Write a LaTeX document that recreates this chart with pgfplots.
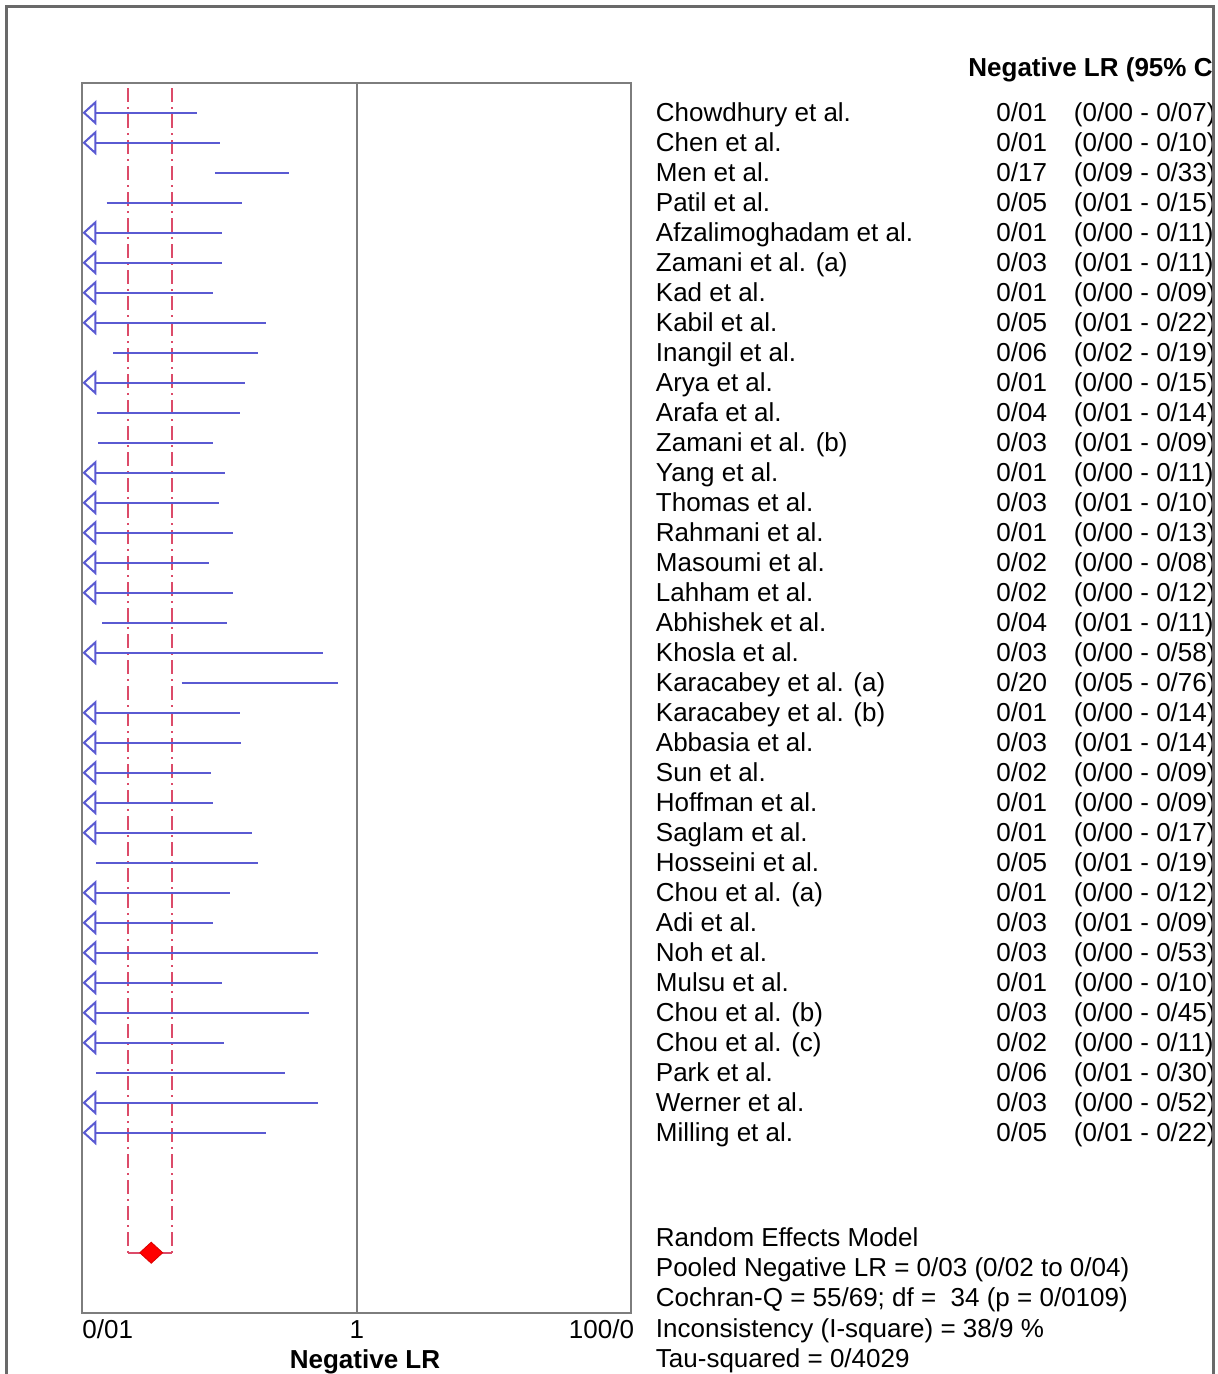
\documentclass[border=0pt]{standalone}
\usepackage{fontspec}
\setmainfont{Liberation Sans}
\usepackage{pgfplots}
\pgfplotsset{compat=1.18}
\usetikzlibrary{arrows.meta}
\definecolor{ciblue}{RGB}{90,90,210}
\definecolor{poolred}{RGB}{220,75,105}
\definecolor{boxgray}{RGB}{125,125,125}
\definecolor{framegray}{RGB}{105,105,105}
\newcommand\fs{\fontsize{13}{15}\selectfont}
\newcommand\studyrow[4]{%
  \pgfmathsetmacro\yy{-(121.2+30*(#1-1))*0.5}%
  \node[anchor=base west, inner sep=0pt] at (327.75pt,\yy pt) {\fs #2};
  \node[anchor=base west, inner sep=0pt] at (498pt,\yy pt) {\fs #3};
  \node[anchor=base west, inner sep=0pt] at (536.75pt,\yy pt) {\fs #4};
}
\pgfplotsset{
  trunc/.style={ciblue, line width=1pt, {Triangle[open, length=7pt, width=12.5pt, line width=1pt]}-},
  full/.style={ciblue, line width=1pt},
}
\begin{document}
\begin{tikzpicture}
\clip (0pt,0pt) rectangle (609pt,-687pt);
\fill[white] (0pt,0pt) rectangle (609pt,-687pt);
\begin{axis}[
  at={(41.25pt,-656.35pt)}, anchor=south west,
  scale only axis, width=274.25pt, height=615pt,
  xmode=log, xmin=0.01, xmax=100,
  ymin=0, ymax=41, y dir=reverse,
  xtick={0.01,1,100},
  xticklabels={\rlap{0/01},1,\llap{100/0\hspace{-1.5pt}}},
  xminorticks=false,
  ytick=\empty,
  major tick length=0pt,
  xticklabel style={anchor=base, yshift=-12.65pt, font=\fs},
  axis line style={boxgray, line width=1pt},
  clip=false,
]
% line of no effect
\addplot[boxgray, line width=1pt] coordinates {(1,0) (1,41)};
% pooled CI dash-dot lines
\addplot[poolred, line width=0.9pt, dash pattern=on 7pt off 2.5pt on 1pt off 2.5pt] coordinates {(0.0216,0.18) (0.0216,39)};
\addplot[poolred, line width=0.9pt, dash pattern=on 7pt off 2.5pt on 1pt off 2.5pt] coordinates {(0.0449,0.18) (0.0449,39)};
\addplot[poolred, line width=0.9pt] coordinates {(0.0216,39) (0.0449,39)};
\addplot[fill=red, draw=red!85!black, line width=0.4pt] coordinates {(0.02616,39) (0.0317,38.65) (0.03846,39) (0.0317,39.35) (0.02616,39)};
% studies
\addplot[trunc] coordinates {(0.01,1) (0.0685,1)};
\addplot[trunc] coordinates {(0.01,2) (0.100,2)};
\addplot[full]  coordinates {(0.0922,3) (0.321,3)};
\addplot[full]  coordinates {(0.0150,4) (0.145,4)};
\addplot[trunc] coordinates {(0.01,5) (0.104,5)};
\addplot[trunc] coordinates {(0.01,6) (0.104,6)};
\addplot[trunc] coordinates {(0.01,7) (0.089,7)};
\addplot[trunc] coordinates {(0.01,8) (0.217,8)};
\addplot[full]  coordinates {(0.0167,9) (0.191,9)};
\addplot[trunc] coordinates {(0.01,10) (0.153,10)};
\addplot[full]  coordinates {(0.0128,11) (0.1405,11)};
\addplot[full]  coordinates {(0.0130,12) (0.089,12)};
\addplot[trunc] coordinates {(0.01,13) (0.109,13)};
\addplot[trunc] coordinates {(0.01,14) (0.099,14)};
\addplot[trunc] coordinates {(0.01,15) (0.1256,15)};
\addplot[trunc] coordinates {(0.01,16) (0.0839,16)};
\addplot[trunc] coordinates {(0.01,17) (0.1245,17)};
\addplot[full]  coordinates {(0.0139,18) (0.1135,18)};
\addplot[trunc] coordinates {(0.01,19) (0.567,19)};
\addplot[full]  coordinates {(0.0529,20) (0.736,20)};
\addplot[trunc] coordinates {(0.01,21) (0.140,21)};
\addplot[trunc] coordinates {(0.01,22) (0.142,22)};
\addplot[trunc] coordinates {(0.01,23) (0.0858,23)};
\addplot[trunc] coordinates {(0.01,24) (0.0899,24)};
\addplot[trunc] coordinates {(0.01,25) (0.171,25)};
\addplot[full]  coordinates {(0.0125,26) (0.189,26)};
\addplot[trunc] coordinates {(0.01,27) (0.1185,27)};
\addplot[trunc] coordinates {(0.01,28) (0.089,28)};
\addplot[trunc] coordinates {(0.01,29) (0.518,29)};
\addplot[trunc] coordinates {(0.01,30) (0.104,30)};
\addplot[trunc] coordinates {(0.01,31) (0.449,31)};
\addplot[trunc] coordinates {(0.01,32) (0.1075,32)};
\addplot[full]  coordinates {(0.0125,33) (0.299,33)};
\addplot[trunc] coordinates {(0.01,34) (0.518,34)};
\addplot[trunc] coordinates {(0.01,35) (0.217,35)};
\end{axis}
\node[anchor=base, inner sep=0pt] at (182.5pt,-684pt) {\fs\bfseries Negative LR};
\begin{scope}
\clip (0pt,0pt) rectangle (605.8pt,-687pt);
\node[anchor=base west, inner sep=0pt] at (484pt,-38.5pt) {\fs\bfseries Negative LR (95\% CI)};
\studyrow{1}{Chowdhury et al.}{0/01}{(0/00 - 0/07)}
\studyrow{2}{Chen et al.}{0/01}{(0/00 - 0/10)}
\studyrow{3}{Men et al.}{0/17}{(0/09 - 0/33)}
\studyrow{4}{Patil et al.}{0/05}{(0/01 - 0/15)}
\studyrow{5}{Afzalimoghadam et al.}{0/01}{(0/00 - 0/11)}
\studyrow{6}{Zamani et al. (a)}{0/03}{(0/01 - 0/11)}
\studyrow{7}{Kad et al.}{0/01}{(0/00 - 0/09)}
\studyrow{8}{Kabil et al.}{0/05}{(0/01 - 0/22)}
\studyrow{9}{Inangil et al.}{0/06}{(0/02 - 0/19)}
\studyrow{10}{Arya et al.}{0/01}{(0/00 - 0/15)}
\studyrow{11}{Arafa et al.}{0/04}{(0/01 - 0/14)}
\studyrow{12}{Zamani et al. (b)}{0/03}{(0/01 - 0/09)}
\studyrow{13}{Yang et al.}{0/01}{(0/00 - 0/11)}
\studyrow{14}{Thomas et al.}{0/03}{(0/01 - 0/10)}
\studyrow{15}{Rahmani et al.}{0/01}{(0/00 - 0/13)}
\studyrow{16}{Masoumi et al.}{0/02}{(0/00 - 0/08)}
\studyrow{17}{Lahham et al.}{0/02}{(0/00 - 0/12)}
\studyrow{18}{Abhishek et al.}{0/04}{(0/01 - 0/11)}
\studyrow{19}{Khosla et al.}{0/03}{(0/00 - 0/58)}
\studyrow{20}{Karacabey et al. (a)}{0/20}{(0/05 - 0/76)}
\studyrow{21}{Karacabey et al. (b)}{0/01}{(0/00 - 0/14)}
\studyrow{22}{Abbasia et al.}{0/03}{(0/01 - 0/14)}
\studyrow{23}{Sun et al.}{0/02}{(0/00 - 0/09)}
\studyrow{24}{Hoffman et al.}{0/01}{(0/00 - 0/09)}
\studyrow{25}{Saglam et al.}{0/01}{(0/00 - 0/17)}
\studyrow{26}{Hosseini et al.}{0/05}{(0/01 - 0/19)}
\studyrow{27}{Chou et al. (a)}{0/01}{(0/00 - 0/12)}
\studyrow{28}{Adi et al.}{0/03}{(0/01 - 0/09)}
\studyrow{29}{Noh et al.}{0/03}{(0/00 - 0/53)}
\studyrow{30}{Mulsu et al.}{0/01}{(0/00 - 0/10)}
\studyrow{31}{Chou et al. (b)}{0/03}{(0/00 - 0/45)}
\studyrow{32}{Chou et al. (c)}{0/02}{(0/00 - 0/11)}
\studyrow{33}{Park et al.}{0/06}{(0/01 - 0/30)}
\studyrow{34}{Werner et al.}{0/03}{(0/00 - 0/52)}
\studyrow{35}{Milling et al.}{0/05}{(0/01 - 0/22)}
\end{scope}
\node[anchor=base west, inner sep=0pt] at (327.75pt,-623pt) {\fs Random Effects Model};
\node[anchor=base west, inner sep=0pt] at (327.75pt,-638pt) {\fs Pooled Negative LR = 0/03 (0/02 to 0/04)};
\node[anchor=base west, inner sep=0pt] at (327.75pt,-653pt) {\fs Cochran-Q = 55/69; df = \ 34 (p = 0/0109)};
\node[anchor=base west, inner sep=0pt] at (327.75pt,-668.5pt) {\fs Inconsistency (I-square) = 38/9 \%};
\node[anchor=base west, inner sep=0pt] at (327.75pt,-683.5pt) {\fs Tau-squared = 0/4029};
\draw[framegray, line width=1.5pt] (3.4pt,-700pt) -- (3.4pt,-3.5pt) -- (606.75pt,-3.5pt) -- (606.75pt,-700pt);
\end{tikzpicture}
\end{document}
